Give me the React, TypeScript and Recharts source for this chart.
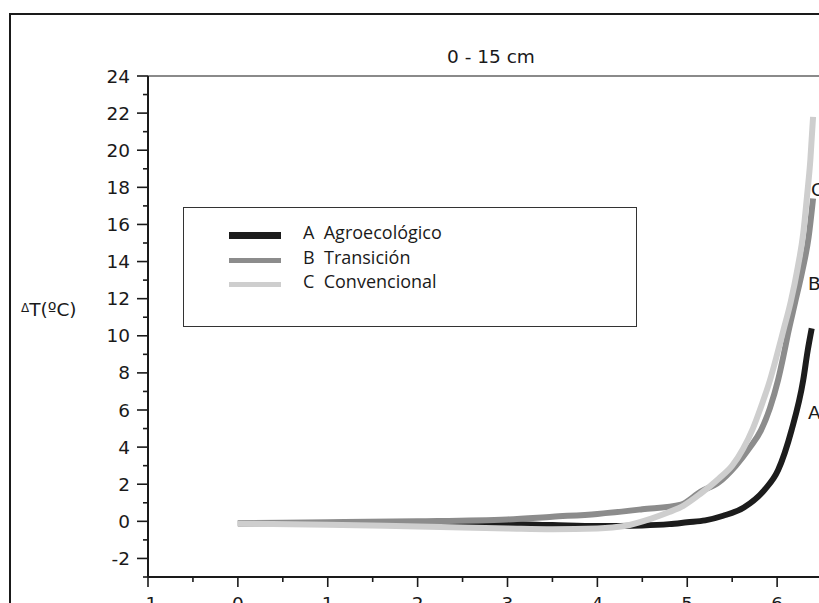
import React from 'react';
import { LineChart, Line, XAxis, YAxis, ReferenceLine, Legend } from 'recharts';

// soil depth 0 - 15 cm, temperature difference per management system
const seriesA = [
  { x: 0, y: -0.1 }, { x: 1, y: -0.1 }, { x: 2, y: -0.15 }, { x: 3, y: -0.15 },
  { x: 3.5, y: -0.2 }, { x: 4, y: -0.25 }, { x: 4.5, y: -0.22 }, { x: 4.8, y: -0.15 },
  { x: 5.0, y: -0.05 }, { x: 5.2, y: 0.05 }, { x: 5.4, y: 0.3 }, { x: 5.63, y: 0.75 },
  { x: 5.86, y: 1.7 }, { x: 6.01, y: 2.75 }, { x: 6.16, y: 4.9 }, { x: 6.29, y: 7.6 },
  { x: 6.34, y: 9.2 }, { x: 6.385, y: 10.4 },
];

const seriesB = [
  { x: 0, y: -0.1 }, { x: 1, y: -0.05 }, { x: 2, y: 0 }, { x: 3, y: 0.1 },
  { x: 3.5, y: 0.25 }, { x: 4, y: 0.4 }, { x: 4.5, y: 0.65 }, { x: 4.93, y: 0.9 },
  { x: 5.15, y: 1.6 }, { x: 5.35, y: 2.1 }, { x: 5.54, y: 3.0 }, { x: 5.7, y: 4.0 },
  { x: 5.82, y: 4.9 }, { x: 5.92, y: 6.1 }, { x: 6.01, y: 7.6 }, { x: 6.07, y: 8.9 },
  { x: 6.12, y: 10.1 }, { x: 6.2, y: 11.8 }, { x: 6.28, y: 13.5 }, { x: 6.35, y: 15.3 },
  { x: 6.4, y: 17.4 },
];

const seriesC = [
  { x: 0, y: -0.12 }, { x: 1, y: -0.18 }, { x: 2, y: -0.28 }, { x: 3, y: -0.38 },
  { x: 3.5, y: -0.42 }, { x: 4, y: -0.38 }, { x: 4.3, y: -0.25 }, { x: 4.6, y: 0.15 },
  { x: 4.8, y: 0.5 }, { x: 4.96, y: 0.85 }, { x: 5.15, y: 1.5 }, { x: 5.35, y: 2.3 },
  { x: 5.5, y: 3.0 }, { x: 5.62, y: 3.9 }, { x: 5.73, y: 5.0 }, { x: 5.83, y: 6.3 },
  { x: 5.92, y: 7.6 }, { x: 6.0, y: 9.0 }, { x: 6.07, y: 10.3 }, { x: 6.15, y: 11.8 },
  { x: 6.23, y: 13.7 }, { x: 6.29, y: 15.5 }, { x: 6.33, y: 17.4 }, { x: 6.37, y: 19.5 },
  { x: 6.4, y: 21.8 },
];

const seriesNames = ['A  Agroecológico', 'B  Transición', 'C  Convencional'];
const seriesColors = ['#1c1c1c', '#8c8c8c', '#cecece'];

const xTicks = [-1, -0.5, 0, 0.5, 1, 1.5, 2, 2.5, 3, 3.5, 4, 4.5, 5, 5.5, 6, 6.5, 7];
const yTicks = [-3, -2, -1, 0, 1, 2, 3, 4, 5, 6, 7, 8, 9, 10, 11, 12, 13, 14, 15, 16, 17, 18, 19, 20, 21, 22, 23, 24];

const FONT = '"DejaVu Sans", sans-serif';
const INK = '#1a1a1a';

const YTick = (props: any) => {
  const { x, y, payload } = props;
  const v = payload.value;
  const major = v % 2 === 0;
  return (
    <g>
      <line x1={x - (major ? 11 : 5)} x2={x} y1={y} y2={y} stroke={INK} strokeWidth={1.6} />
      {major && (
        <text x={x - 18} y={y} textAnchor="end" dominantBaseline="central"
          fontSize={18.5} fontFamily={FONT} fill={INK}>{v}</text>
      )}
    </g>
  );
};

const XTick = (props: any) => {
  const { x, y, payload } = props;
  const v = payload.value;
  const major = Number.isInteger(v);
  return (
    <g>
      <line x1={x} x2={x} y1={y} y2={y + (major ? 10 : 5)} stroke={INK} strokeWidth={1.6} />
      {major && (
        <text x={x} y={y + 26} textAnchor="middle" dominantBaseline="central"
          fontSize={18.5} fontFamily={FONT} fill={INK}>{v}</text>
      )}
    </g>
  );
};

const LegendBox = (props: any) => {
  const { payload } = props;
  return (
    <div style={{
      width: 454, height: 120, border: '1px solid #333', background: '#fff',
      boxSizing: 'border-box', position: 'relative',
    }}>
      {(payload || []).map((item: any, i: number) => (
        <div key={item.value} style={{ position: 'absolute', left: 0, top: 13 + i * 24.5, height: 22, width: '100%' }}>
          <div style={{
            position: 'absolute', left: 45, top: i === 0 ? 11 : 12, width: 52,
            height: i === 0 ? 7 : 5, background: seriesColors[i],
          }} />
          <span style={{
            position: 'absolute', left: 119, top: 0, fontFamily: '"Open Sans", sans-serif',
            fontSize: 18, lineHeight: '22px', color: INK, whiteSpace: 'pre',
          }}>{item.value}</span>
        </div>
      ))}
    </div>
  );
};

const abs = (left: number, top: number, extra: React.CSSProperties = {}): React.CSSProperties => ({
  position: 'absolute', left, top, fontFamily: FONT, color: INK, fontSize: 18.5, lineHeight: '20px', whiteSpace: 'pre', ...extra,
});

export default function App() {
  return (
    <div style={{ position: 'absolute', left: 0, top: 0, width: 819, height: 603, overflow: 'hidden', background: '#fff' }}>
      <div style={{
        position: 'absolute', left: 9, top: 13, width: 1200, height: 1200,
        borderLeft: '2px solid #1a1a1a', borderTop: '2px solid #1a1a1a',
      }} />
      <div style={{ position: 'absolute', left: 0, top: 0 }}>
        <LineChart width={907} height={637} margin={{ top: 76, right: 40, left: 0, bottom: 0 }}>
          <XAxis
            type="number" dataKey="x" domain={[-1, 7]} ticks={xTicks} interval={0}
            height={60} tickSize={0} tickMargin={0} tickLine={false}
            axisLine={{ stroke: INK, strokeWidth: 2 }} tick={<XTick />} allowDataOverflow
          />
          <YAxis
            type="number" domain={[-3, 24]} ticks={yTicks} interval={0}
            width={148} tickSize={0} tickMargin={0} tickLine={false}
            axisLine={{ stroke: INK, strokeWidth: 2 }} tick={<YTick />} allowDataOverflow
          />
          <ReferenceLine y={24} stroke="#8a8a8a" strokeWidth={2} />
          <Legend
            layout="horizontal" verticalAlign="middle" align="center"
            content={<LegendBox />}
            wrapperStyle={{ position: 'absolute', left: 183, top: 207, width: 454, height: 120 }}
          />
          <Line data={seriesA} dataKey="y" name={seriesNames[0]} type="monotone" stroke={seriesColors[0]}
            strokeWidth={6} dot={false} activeDot={false} isAnimationActive={false} />
          <Line data={seriesB} dataKey="y" name={seriesNames[1]} type="monotone" stroke={seriesColors[1]}
            strokeWidth={6} dot={false} activeDot={false} isAnimationActive={false} />
          <Line data={seriesC} dataKey="y" name={seriesNames[2]} type="monotone" stroke={seriesColors[2]}
            strokeWidth={6} dot={false} activeDot={false} isAnimationActive={false} />
        </LineChart>
      </div>
      <div style={abs(447, 47)}>0 - 15 cm</div>
      <div style={abs(21, 300)}>
        <span style={{ fontSize: 12, verticalAlign: 'top', lineHeight: '16px' }}>Δ</span>T(ºC)
      </div>
      <div style={abs(811, 180)}>C</div>
      <div style={abs(808, 274)}>B</div>
      <div style={abs(808, 403)}>A</div>
    </div>
  );
}
